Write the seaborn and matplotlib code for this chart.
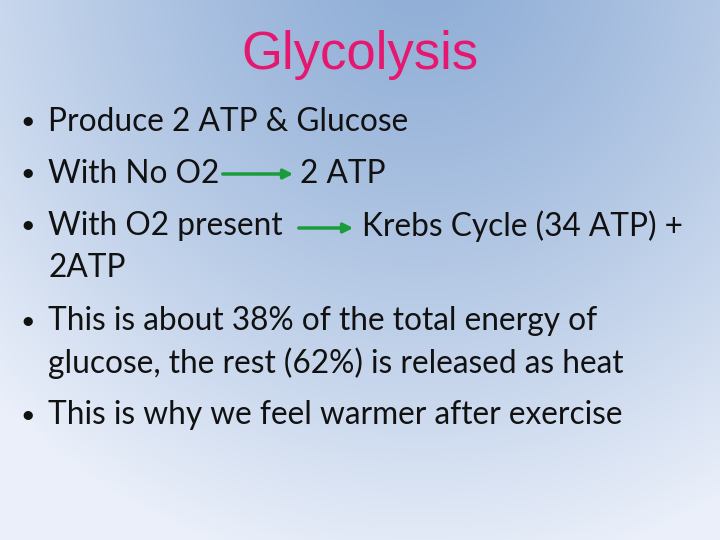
import numpy as np
import matplotlib
matplotlib.use("Agg")
import matplotlib.pyplot as plt
import seaborn as sns

sns.set_theme(style="white")
plt.rcParams['font.family'] = ['Lato', 'DejaVu Sans']

title = "Glycolysis"
bullet_ys = [122, 174, 226, 321, 415]
text_pieces = [
    (48, 122, "Produce 2 ATP & Glucose"),
    (48, 174, "With No O2"),
    (300, 174, "2 ATP"),
    (48, 226, "With O2 present"),
    (362, 226, "Krebs Cycle (34 ATP) +"),
    (48, 268, "2ATP"),
    (48, 321, "This is about 38% of the total energy of"),
    (48, 363, "glucose, the rest (62%) is released as heat"),
    (48, 415, "This is why we feel warmer after exercise"),
]
arrows = [((220, 174), (296, 174)), ((296, 228), (356, 228))]

fig = plt.figure(figsize=(7.2, 5.4), dpi=100)
ax = fig.add_axes([0, 0, 1, 1])
ax.set_xlim(0, 720)
ax.set_ylim(540, 0)
ax.axis("off")

yy, xx = np.mgrid[0:540, 0:720]
d = np.sqrt(((xx - 420) / 600.0) ** 2 + ((yy + 40) / 620.0) ** 2)
d = np.clip(d, 0, 1) ** 1.3
top = np.array([0.56, 0.68, 0.84])
bot = np.array([0.92, 0.94, 0.98])
img = top[None, None, :] * (1 - d[..., None]) + bot[None, None, :] * d[..., None]
ax.imshow(img, extent=[0, 720, 540, 0], aspect="auto", zorder=0)

ax.text(360, 55, title, color="#e5176f", fontsize=38, ha="center", va="center",
        family=["Liberation Sans", "DejaVu Sans"], zorder=2)

for y in bullet_ys:
    ax.text(20, y, "•", fontsize=18, color="#111111", va="center", zorder=2)
for x, y, t in text_pieces:
    ax.text(x, y, t, fontsize=22.8, color="#111111", va="center", zorder=2)

for (x0, y0), (x1, y1) in arrows:
    ax.annotate("", xy=(x1, y1), xytext=(x0, y0),
                arrowprops=dict(arrowstyle="-|>", color="#1a9c3a", lw=2.5,
                                mutation_scale=14), zorder=3)

fig.savefig("out.png", dpi=100)
